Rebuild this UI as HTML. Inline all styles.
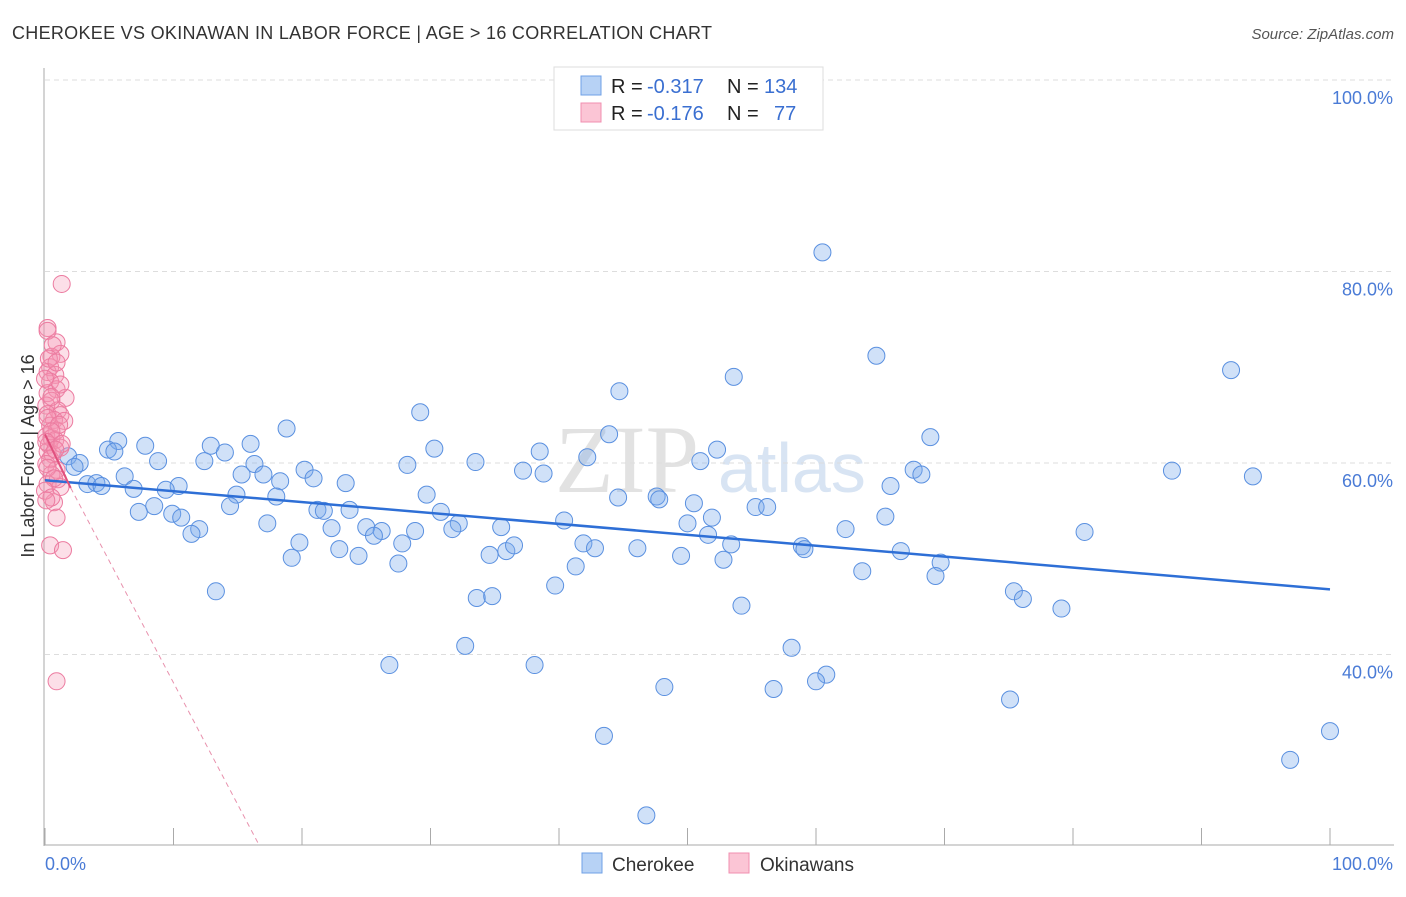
<!DOCTYPE html>
<html><head><meta charset="utf-8"><style>
body{margin:0;background:#fff;font-family:"Liberation Sans",sans-serif}
svg text{font-family:"Liberation Sans",sans-serif}
</style></head><body>
<svg id="c" width="1406" height="892" xmlns="http://www.w3.org/2000/svg">
<text x="12" y="39" font-size="18" fill="#333" textLength="700">CHEROKEE VS OKINAWAN IN LABOR FORCE | AGE &gt; 16 CORRELATION CHART</text>
<text x="1394" y="39" font-size="15" fill="#555" font-style="italic" text-anchor="end">Source: ZipAtlas.com</text>
<text x="555" y="492" font-size="96" fill="#e2e2e2" style="font-family:'Liberation Serif',serif">ZIP</text>
<text x="718" y="492" font-size="70" fill="#d8e4f3">atlas</text>
<g id="grid"></g>
<g id="pts"></g>
<g id="lines"></g>
<text transform="translate(34,456) rotate(-90)" font-size="18" fill="#333" text-anchor="middle">In Labor Force | Age &gt; 16</text>
<g>
<rect x="554" y="67" width="269" height="63" fill="#fff" stroke="#ddd"/>
<rect x="581" y="76" width="20" height="19" fill="#b7d2f5" stroke="#6fa0e6"/>
<rect x="581" y="103" width="20" height="19" fill="#fbc5d5" stroke="#f08fb0"/>
<text x="611" y="93" font-size="20" fill="#222">R =</text>
<text x="647" y="93" font-size="20" fill="#3a6fd1">-0.317</text>
<text x="727" y="93" font-size="20" fill="#222">N =</text>
<text x="764" y="93" font-size="20" fill="#3a6fd1">134</text>
<text x="611" y="120" font-size="20" fill="#222">R =</text>
<text x="647" y="120" font-size="20" fill="#3a6fd1">-0.176</text>
<text x="727" y="120" font-size="20" fill="#222">N =</text>
<text x="774" y="120" font-size="20" fill="#3a6fd1">77</text>
</g>
<g>
<rect x="582" y="853" width="20" height="20" fill="#b7d2f5" stroke="#6fa0e6"/>
<text x="612" y="871" font-size="19" fill="#333">Cherokee</text>
<rect x="729" y="853" width="20" height="20" fill="#fbc5d5" stroke="#f08fb0"/>
<text x="760" y="871" font-size="19" fill="#333">Okinawans</text>
</g>
<text x="45" y="870" font-size="18" fill="#4a7bd6">0.0%</text>
<text x="1393" y="870" font-size="18" fill="#4a7bd6" text-anchor="end">100.0%</text>
</svg>
<script>
const yTicks=[100,80,60,40];
const yTickLabels=["100.0%","80.0%","60.0%","40.0%"];
const xTicks=[0,10,20,30,40,50,60,70,80,90,100];
const cherokeeX=[60.5,64.7,92.3,53.6,44.7,29.2,18.8,68.9,5.7,7.8,12.9,16,30.3,43.9,38.5,4.9,5.4,1.8,2.7,14,12.4,8.8,33.5,51,52.3,42.2,16.3,28.2,2.3,20.2,37.2,38.8,15.3,6.2,17,67.6,68.2,87.7,94,20.9,18.3,3.3,4,4.4,6.9,10.4,9.4,23.4,65.8,29.7,14.9,18,44.6,47.6,47.8,50.5,14.4,8.5,7.3,9.9,10.6,21.2,21.7,23.7,30.8,55.3,56.2,51.9,40.4,65.4,17.3,12,11.4,22.3,25,26.2,25.6,32.2,35.5,31.7,50,51.6,62.3,80.9,28.8,27.8,19.8,22.9,24.4,27.5,34.6,35.9,36.5,41.9,42.8,46.1,49.5,53.4,52.8,58.9,59.1,66.6,41.3,19.2,63.6,69.7,69.3,39.7,13.3,33.6,34.8,75.4,76.1,79.1,54.2,32.7,58.1,26.8,38.1,48.2,60.8,60,56.7,75.1,43.5,100,96.9,46.8];
const cherokeeY=[82,71.2,69.7,69,67.5,65.3,63.6,62.7,62.3,61.8,61.8,62,61.5,63,61.2,61.4,61.2,60.7,60,61.1,60.2,60.2,60.1,60.2,61.4,60.6,59.9,59.8,59.6,59.3,59.2,58.9,58.8,58.6,58.8,59.3,58.8,59.2,58.6,58.4,58.1,57.8,57.9,57.6,57.3,57.6,57.2,57.9,57.6,56.7,56.7,56.5,56.4,56.5,56.2,55.8,55.5,55.5,54.9,54.7,54.3,55.1,55,55.1,54.9,55.4,55.4,54.3,54,54.4,53.7,53.1,52.6,53.2,53.3,52.9,52.4,53.7,53.3,53.1,53.7,52.5,53.1,52.8,52.9,51.6,51.7,51,50.3,49.5,50.4,50.8,51.4,51.6,51.1,51.1,50.3,51.5,49.9,51.3,51,50.8,49.2,50.1,48.7,49.6,48.2,47.2,46.6,45.9,46.1,46.6,45.8,44.8,45.1,40.9,40.7,38.9,38.9,36.6,37.9,37.2,36.4,35.3,31.5,32,29,23.2];
const okinawaX=[1.3,0.2,0.9,1.2,0.5,0.4,0.2,0.8,0.4,0.9,0.2,1.6,0.5,0.1,1,0.2,1.2,0.7,1.5,0.4,0.9,0.1,0.5,0.8,0.3,1.2,0.2,0.6,0.4,0.1,0.9,0.5,1,0.2,1.2,0.7,0.9,0.4,1.4,0.9,0.2,0.6,0.3,0.9,0,1.2,0.5,0.2,1.1,0.5,0.1,1.3,0.8,0.2,0.7,0,0.5,0.1];
const okinawaY=[78.7,74.1,72.6,71.4,71.1,70,69.5,69.2,68.5,67.7,67.3,66.8,66.5,66,65.5,65.1,65,64.5,64.4,63.9,63.4,62.8,62.6,62.4,61.9,61.6,61.2,60.9,60.4,59.9,59.3,58.8,58.3,57.8,57.5,55.9,54.3,51.4,50.9,37.2,73.8,72.3,70.9,70.5,68.8,68.2,66.9,64.7,64,63.3,62.2,62,61.4,59.5,58.4,57.1,56.4,56.1];
const NS="http://www.w3.org/2000/svg";
const X=v=>45+v*12.85, Y=v=>846-(v-20)*9.575;
function mk(t,a,p){const e=document.createElementNS(NS,t);for(const k in a)e.setAttribute(k,a[k]);p.appendChild(e);return e;}
const g=document.getElementById('grid');
yTicks.forEach((t,i)=>{
 const l=mk('line',{x1:45,x2:1394,y1:Y(t),y2:Y(t),stroke:'#ddd','stroke-dasharray':'5,4'},g);
 
 
 const tx=mk('text',{x:1393,y:Y(t)+24,'font-size':18,fill:'#4a7bd6','text-anchor':'end'},g);
 tx.textContent=yTickLabels[i];
 
 
});
const ax=mk('line',{x1:44,x2:44,y1:68,y2:846,stroke:'#aaa'},g);


const bx=mk('line',{x1:44,x2:1394,y1:845,y2:845,stroke:'#aaa'},g);


xTicks.forEach(t=>{
 const l=mk('line',{x1:X(t),x2:X(t),y1:828,y2:845,stroke:'#aaa'},g);
 
 
});
const p=document.getElementById('pts');
cherokeeX.forEach((x,i)=>{
 const c=mk('circle',{cx:X(x),cy:Y(cherokeeY[i]),r:8.5,fill:'rgba(120,170,235,0.35)',stroke:'#5a90e0','stroke-width':1},p);
 
 
});
okinawaX.forEach((x,i)=>{
 const c=mk('circle',{cx:X(x),cy:Y(okinawaY[i]),r:8.5,fill:'rgba(245,150,180,0.3)',stroke:'#ec7ba0','stroke-width':1},p);
 
 
});
const L=document.getElementById('lines');
const b=mk('line',{x1:X(0),y1:Y(58.2),x2:X(100),y2:Y(46.8),stroke:'#2e6fd6','stroke-width':2.5},L);


const pk=mk('line',{x1:X(0),y1:Y(63),x2:X(2),y2:Y(57.4),stroke:'#e0507e','stroke-width':2},L);


const pd=mk('line',{x1:X(2),y1:Y(57.4),x2:X(16.7),y2:Y(20),stroke:'#e891ad','stroke-width':1,'stroke-dasharray':'5,4'},L);


</script>
</body></html>
